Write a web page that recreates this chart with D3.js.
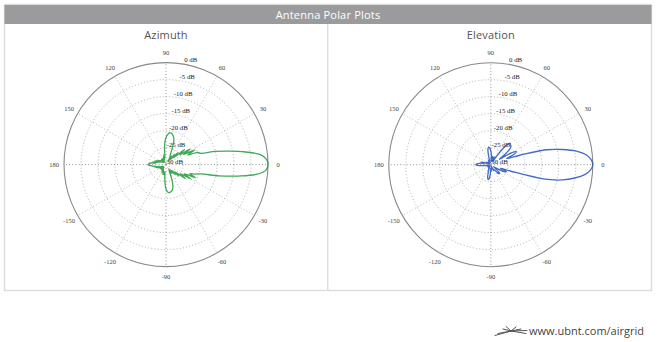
<!DOCTYPE html>
<html><head><meta charset="utf-8">
<script src="https://cdn.jsdelivr.net/npm/d3@7"></script>
<style>
html,body{margin:0;padding:0;background:#fff;}
svg{display:block;}
</style></head>
<body>
<svg id="chart" width="660" height="342"></svg>
<script>
// ---- data ----
const chartTitle = "Antenna Polar Plots";
const panelTitles = ["Azimuth", "Elevation"];
const footerText = "www.ubnt.com/airgrid";
const angleTicks = [0, 30, 60, 90, 120, 150, 180, -150, -120, -90, -60, -30];
const dbTicks = [0, -5, -10, -15, -20, -25, -30];
const sampleStep = 3; // degrees between samples, starting at 0
const azimuthGain = [
  0, -0.4, -2.1, -6.3, -10.9, -15, -19.3, -20, -23, -20.5,
  -24, -21.5, -25, -23, -27, -25, -28, -26, -28.5, -27,
  -28.5, -27.5, -27, -25, -22.5, -21.5, -20.9, -20.6, -20.6, -21.2,
  -22, -23.5, -26, -28, -27, -28.5, -27.5, -28.5, -28, -29,
  -28, -29, -28, -29, -28, -29, -28.5, -29, -28, -28.5,
  -27.5, -28.5, -27, -28, -26.5, -27.5, -26, -27, -25.5, -25,
  -24.7, -25.2, -26, -27, -26.5, -28, -27, -28.5, -27.5, -29,
  -28, -29, -28, -29, -28.5, -29, -28, -29, -28, -28.5,
  -27.5, -28.5, -27.5, -28, -27, -27.5, -27, -28, -26.5, -24.5,
  -22.8, -22, -21.7, -21.8, -22, -22.5, -23.5, -25, -27, -28,
  -27, -28.5, -27, -28, -26, -27.5, -25, -26.5, -23, -25,
  -21.5, -24, -20.5, -22.5, -21, -19.5, -14, -8.5, -3, -0.5
];
const elevationGain = [
  0, -0.5, -1.8, -4.5, -8.5, -13, -21, -25, -22.5, -21.5,
  -23, -27, -25, -23, -22, -21.8, -21.5, -22.5, -25, -28,
  -29, -28, -27.5, -28.5, -29, -28, -27.5, -28, -29, -27,
  -26, -25.2, -24.8, -25, -26, -28, -29, -28.5, -29.5, -28.5,
  -29.5, -29, -29.5, -29, -29.5, -29, -29.5, -29, -29.5, -29,
  -28.5, -29.5, -28.5, -29, -28, -27, -28, -27, -26.5, -25.8,
  -25.6, -26, -27.5, -28.5, -29, -29.5, -29, -29.5, -29, -29.5,
  -29, -29.5, -29, -29.5, -29, -29.5, -29, -29.5, -29, -29.5,
  -29, -28.5, -29, -28, -27.5, -26.5, -25.8, -25.6, -26, -27.5,
  -29, -28, -28.5, -29, -29.5, -29, -29.5, -29, -28.5, -28,
  -28.5, -28, -28, -27, -26.5, -26.3, -27, -28.5, -29, -28,
  -27, -25.5, -25, -27, -24, -13.5, -8.5, -5, -2.2, -0.6
];
const seriesColors = ["#2f9e46", "#2f5bbf"];

// ---- drawing ----
const svg = d3.select("#chart");
const box = {x0: 4.5, x1: 651.5, y0: 4.5, yh: 24, y1: 290.5};
const mid = 327.7;

// frame
svg.append("rect").attr("x", box.x0).attr("y", box.y0)
  .attr("width", box.x1 - box.x0).attr("height", box.y1 - box.y0)
  .attr("fill", "none").attr("stroke", "#dcdcdc").attr("stroke-width", 1.4);
svg.append("rect").attr("x", box.x0).attr("y", box.y0 + 0.5)
  .attr("width", box.x1 - box.x0).attr("height", box.yh - box.y0 - 0.5)
  .attr("fill", "#9b9b9e");
svg.append("line").attr("x1", mid).attr("x2", mid).attr("y1", box.yh).attr("y2", box.y1)
  .attr("stroke", "#dcdcdc").attr("stroke-width", 1.4);
svg.append("text").attr("x", 328).attr("y", 18.5).attr("text-anchor", "middle")
  .attr("font-family", "'Open Sans', sans-serif").attr("font-size", 11)
  .attr("letter-spacing", 0.2).attr("fill", "#fff").text(chartTitle);

const R = 102;
const rScale = d3.scaleLinear().domain([-30, 0]).range([0, R]).clamp(true);
const centers = [[166, 164.6], [490.8, 164.7]];
const series = [azimuthGain, elevationGain];

centers.forEach((c, k) => {
  const g = svg.append("g").attr("transform", `translate(${c[0]},${c[1]})`);
  svg.append("text").attr("x", c[0]).attr("y", 39).attr("text-anchor", "middle")
    .attr("font-family", "'Open Sans', sans-serif").attr("font-size", 11)
    .attr("letter-spacing", 0.15).attr("fill", "#555").text(panelTitles[k]);

  // rings
  g.selectAll("circle.ring").data(dbTicks.filter(d => d > -30 && d < 0)).enter()
    .append("circle").attr("r", d => rScale(d)).attr("fill", "none")
    .attr("stroke", "#9a9a9a").attr("stroke-width", 0.8).attr("stroke-dasharray", "1,2.2");
  // spokes
  g.selectAll("line.spoke").data(angleTicks).enter().append("line")
    .attr("x1", 0).attr("y1", 0)
    .attr("x2", d => R * Math.cos(d * Math.PI / 180))
    .attr("y2", d => -R * Math.sin(d * Math.PI / 180))
    .attr("stroke", d => (d % 90 === 0) ? "#777" : "#aaa")
    .attr("stroke-width", 0.8).attr("stroke-dasharray", "1,2.2");
  // outer circle
  g.append("circle").attr("r", R).attr("fill", "none")
    .attr("stroke", "#888").attr("stroke-width", 1.1);

  // angle labels
  g.selectAll("text.ang").data(angleTicks).enter().append("text")
    .attr("x", d => 112 * Math.cos(d * Math.PI / 180))
    .attr("y", d => -112 * Math.sin(d * Math.PI / 180) + 2)
    .attr("text-anchor", "middle")
    .attr("font-family", "'Liberation Serif', serif").attr("font-size", 6.5)
    .attr("fill", "#444").text(d => d);

  // dB labels
  g.selectAll("text.db").data(dbTicks).enter().append("text")
    .attr("x", d => 17 + 0.14 * rScale(d))
    .attr("y", d => -rScale(d) - 1)
    .attr("text-anchor", "end")
    .attr("font-family", "'Liberation Serif', serif").attr("font-size", 6.8)
    .attr("fill", "#222").text(d => d + " dB");

  // pattern
  const gains = series[k];
  const pts = gains.map((v, i) => [i * sampleStep, v]);
  const line = d3.lineRadial()
    .angle(d => Math.PI / 2 - d[0] * Math.PI / 180)
    .radius(d => rScale(d[1]))
    .curve(d3.curveCatmullRomClosed.alpha(0.5));
  g.append("path").attr("d", line(pts)).attr("fill", "none")
    .attr("stroke", seriesColors[k]).attr("stroke-width", 1.3)
    .attr("stroke-linejoin", "round").attr("opacity", 0.9);
});

// footer
svg.append("text").attr("x", 529).attr("y", 335)
  .attr("font-family", "'Open Sans', sans-serif").attr("font-size", 11)
  .attr("fill", "#444").text(footerText);
const logo = svg.append("g").attr("stroke", "#555").attr("stroke-width", 1).attr("fill", "none")
  .attr("stroke-linecap", "round");
[[495, 335.5], [498, 333.5], [503, 329], [506, 326.5], [516, 327], [521, 329], [527, 330.5], [526, 333.5]]
  .forEach(p => logo.append("line").attr("x1", 511).attr("y1", 331).attr("x2", p[0]).attr("y2", p[1]));
</script>
</body></html>
